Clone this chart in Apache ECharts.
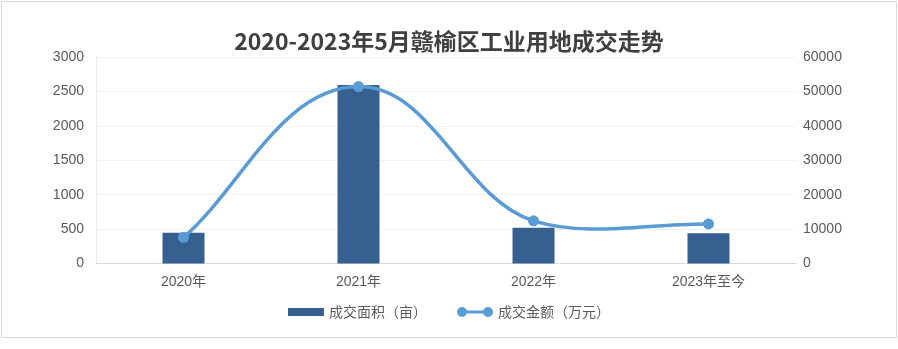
<!DOCTYPE html>
<html><head><meta charset="utf-8">
<script src="https://cdn.jsdelivr.net/npm/echarts@6/dist/echarts.min.js"></script>
<style>html,body{margin:0;padding:0;background:#fff}#c{width:898px;height:349px}</style>
</head><body><div id="c"></div>
<script>
const categories = ['2020年','2021年','2022年','2023年至今'];
const areaValues = [447, 2593, 520, 440];
const amountValues = [7600, 51400, 12400, 11500];
const leftTicks = [0, 3000, 500];
const rightTicks = [0, 60000, 10000];
const seriesNames = ['成交面积（亩）','成交金额（万元）'];
const titleText = '2020-2023年5月赣榆区工业用地成交走势';

const font = '"Noto Sans CJK SC", "Liberation Sans", sans-serif';
const numFont = '"Liberation Sans", "Noto Sans CJK SC", sans-serif';
const lineColor = '#5B9BD5';
const K = 1 / 3; // spline handle length relative to segment length

function unit(a, b) {
  const dx = b[0] - a[0], dy = b[1] - a[1];
  const d = Math.hypot(dx, dy) || 1;
  return [dx / d, dy / d, d];
}
function tangents(pts) {
  const n = pts.length, t = [];
  for (let i = 0; i < n; i++) {
    if (i === 0) { const u = unit(pts[0], pts[1]); t.push([u[0], u[1]]); continue; }
    if (i === n - 1) { const u = unit(pts[n - 2], pts[n - 1]); t.push([u[0], u[1]]); continue; }
    const u1 = unit(pts[i - 1], pts[i]), u2 = unit(pts[i], pts[i + 1]);
    const w = u1[2] + u2[2];
    let tx = (u1[0] * u2[2] + u2[0] * u1[2]) / w, ty = (u1[1] * u2[2] + u2[1] * u1[2]) / w;
    const m = Math.hypot(tx, ty) || 1;
    t.push([tx / m, ty / m]);
  }
  return t;
}

function renderSpline(params, api) {
  const n = amountValues.length;
  const pts = amountValues.map((v, i) => api.coord([i, v]));
  const tg = tangents(pts);
  const i = params.dataIndex;
  const children = [];
  if (i < n - 1) {
    const p0 = pts[i], p1 = pts[i + 1];
    const d = unit(p0, p1)[2] * K;
    children.push({
      type: 'bezierCurve',
      shape: {
        x1: p0[0], y1: p0[1], x2: p1[0], y2: p1[1],
        cpx1: p0[0] + tg[i][0] * d, cpy1: p0[1] + tg[i][1] * d,
        cpx2: p1[0] - tg[i + 1][0] * d, cpy2: p1[1] - tg[i + 1][1] * d
      },
      style: {stroke: lineColor, lineWidth: 3.5, fill: 'none', lineCap: 'round'}
    });
  }
  children.push({type: 'circle', shape: {cx: pts[i][0], cy: pts[i][1], r: 5.5}, style: {fill: lineColor}});
  return {type: 'group', children};
}

const chart = echarts.init(document.getElementById('c'));
chart.setOption({
  animation: false,
  backgroundColor: '#fff',
  graphic: [{type:'rect', shape:{x:1.5,y:1.5,width:895,height:336}, style:{fill:'none', stroke:'#D9D9D9', lineWidth:1}, silent:true}],
  title: {text: titleText, left: 'center', top: 25, textStyle:{fontFamily: font, fontSize: 23, fontWeight: 'bold', color: '#404040'}},
  grid: {left: 96, right: 102, top: 57, bottom: 85.5},
  legend: {
    bottom: 25, left: 'center', itemGap: 30, itemWidth: 36, itemHeight: 10,
    textStyle: {fontFamily: font, fontSize: 14, color: '#595959'},
    data: [
      {name: seriesNames[0], icon: 'path://M0,1H36V9H0Z'},
      {name: seriesNames[1], icon: 'path://M0,5A5,5 0 1,1 10,5A5,5 0 1,1 0,5Z M26,5A5,5 0 1,1 36,5A5,5 0 1,1 26,5Z M9.5,3.5H26.5V6.5H9.5Z'}
    ]
  },
  xAxis: {type:'category', data: categories,
    axisLine:{lineStyle:{color:'#D9D9D9'}}, axisTick:{show:false},
    axisLabel:{color:'#595959', fontFamily: numFont, fontSize: 14, margin: 12}},
  yAxis: [
    {type:'value', min: leftTicks[0], max: leftTicks[1], interval: leftTicks[2],
     axisLine:{show:true, lineStyle:{color:'#EDEDED'}}, axisTick:{show:false},
     splitLine:{lineStyle:{color:'#F2F2F2'}},
     axisLabel:{color:'#595959', fontFamily: numFont, fontSize: 14, margin: 12, formatter: v => String(v)}},
    {type:'value', min: rightTicks[0], max: rightTicks[1], interval: rightTicks[2],
     axisLine:{show:false}, axisTick:{show:false}, splitLine:{show:false},
     axisLabel:{color:'#595959', fontFamily: numFont, fontSize: 14, margin: 7, formatter: v => String(v)}}
  ],
  series: [
    {name: seriesNames[0], type:'bar', data: areaValues, barWidth: 42, itemStyle:{color:'#35608F'}},
    {name: seriesNames[1], type:'custom', yAxisIndex: 1, coordinateSystem: 'cartesian2d',
     data: amountValues.map((v, i) => [i, v]), encode: {x: 0, y: 1},
     renderItem: renderSpline, itemStyle: {color: lineColor}, z: 3}
  ]
});
</script></body></html>
